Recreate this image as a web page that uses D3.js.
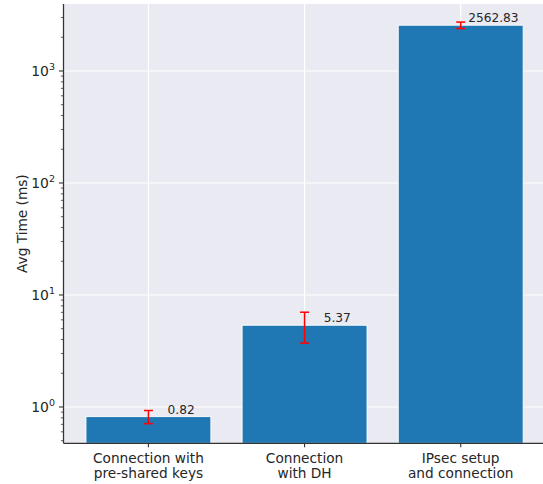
<!DOCTYPE html>
<html>
<head>
<meta charset="utf-8">
<script src="https://cdn.jsdelivr.net/npm/d3@7"></script>
<style>
  html, body { margin: 0; padding: 0; background: #ffffff; }
  svg { display: block; }
  text { font-family: "DejaVu Sans", sans-serif; fill: #262626; }
</style>
</head>
<body>
<svg id="chart" width="543" height="484"></svg>
<script>
// ---- data ----
const categories = [["Connection with", "pre-shared keys"], ["Connection", "with DH"], ["IPsec setup", "and connection"]];
const values = [0.82, 5.37, 2562.83];
const errors = [0.11, 1.65, 170];
const valueLabels = ["0.82", "5.37", "2562.83"];
const yTickExponents = [0, 1, 2, 3];
const yLabel = "Avg Time (ms)";

// ---- layout ----
const W = 543, H = 484;
const plot = { left: 63.5, top: 4, right: 545, bottom: 443.3 };
const svg = d3.select("#chart");

const x = d3.scaleLinear().domain([-0.544, 2.54]).range([plot.left, plot.right]);
const y = d3.scaleLog().domain([0.474, 3963]).range([plot.bottom, plot.top]);

// background
svg.append("rect").attr("x", plot.left).attr("y", plot.top)
  .attr("width", plot.right - plot.left).attr("height", plot.bottom - plot.top)
  .attr("fill", "#EAEAF2");

// grid
const g = svg.append("g");
yTickExponents.forEach(e => {
  const yy = y(Math.pow(10, e));
  g.append("line").attr("x1", plot.left).attr("x2", plot.right)
    .attr("y1", yy).attr("y2", yy).attr("stroke", "#fff").attr("stroke-width", 1.2);
});
categories.forEach((c, i) => {
  g.append("line").attr("x1", x(i)).attr("x2", x(i))
    .attr("y1", plot.top).attr("y2", plot.bottom).attr("stroke", "#fff").attr("stroke-width", 1.2);
});

// bars
const barW = x(0.8) - x(0);
svg.append("g").selectAll("rect").data(values).join("rect")
  .attr("x", (d, i) => x(i) - barW / 2)
  .attr("width", barW)
  .attr("y", d => y(d))
  .attr("height", d => plot.bottom - y(d))
  .attr("fill", "#1f77b4")
  .attr("stroke", "#ffffff").attr("stroke-width", 0.9);

// error bars
const eg = svg.append("g");
values.forEach((v, i) => {
  const cx = x(i), y1 = y(v + errors[i]), y2 = y(v - errors[i]);
  eg.append("line").attr("x1", cx).attr("x2", cx).attr("y1", y1).attr("y2", y2)
    .attr("stroke", "red").attr("stroke-width", 1.5);
  [y1, y2].forEach(yy => eg.append("line").attr("x1", cx - 4.5).attr("x2", cx + 4.5)
    .attr("y1", yy).attr("y2", yy).attr("stroke", "red").attr("stroke-width", 1.5));
});

// value labels
svg.append("g").selectAll("text").data(values).join("text")
  .attr("x", (d, i) => x(i + 0.2) + 1.5)
  .attr("y", d => y(d) - 2.8)
  .attr("text-anchor", "middle")
  .attr("font-size", "12.2px")
  .text((d, i) => valueLabels[i]);

// spines
svg.append("line").attr("x1", plot.left).attr("x2", plot.left).attr("y1", plot.top).attr("y2", plot.bottom)
  .attr("stroke", "#333").attr("stroke-width", 1.25);
svg.append("line").attr("x1", plot.left).attr("x2", plot.right).attr("y1", plot.bottom).attr("y2", plot.bottom)
  .attr("stroke", "#333").attr("stroke-width", 1.25);

// y ticks (major + minor)
const tg = svg.append("g");
const [lo, hi] = y.domain();
for (let e = -1; e <= 3; e++) {
  for (let m = 1; m <= 9; m++) {
    const v = m * Math.pow(10, e);
    if (v < lo || v > hi) continue;
    const len = m === 1 ? 4.5 : 2.6;
    tg.append("line").attr("x1", plot.left - len).attr("x2", plot.left)
      .attr("y1", y(v)).attr("y2", y(v)).attr("stroke", "#333").attr("stroke-width", m === 1 ? 1.1 : 0.8);
  }
}
yTickExponents.forEach(e => {
  const t = tg.append("text").attr("x", 55).attr("y", y(Math.pow(10, e)) + 5.3)
    .attr("text-anchor", "end").attr("font-size", "13.9px");
  t.append("tspan").text("10");
  t.append("tspan").attr("dy", -6.6).attr("font-size", "9.5px").text(String(e));
});

// x ticks
categories.forEach((c, i) => {
  tg.append("line").attr("x1", x(i)).attr("x2", x(i)).attr("y1", plot.bottom).attr("y2", plot.bottom + 4)
    .attr("stroke", "#333").attr("stroke-width", 1.1);
  const t = tg.append("text").attr("x", x(i)).attr("y", 463).attr("text-anchor", "middle").attr("font-size", "13.7px");
  c.forEach((line, k) => t.append("tspan").attr("x", x(i)).attr("dy", k === 0 ? 0 : 15).text(line));
});

// y label
svg.append("text").attr("transform", `translate(26.5, ${(plot.top + plot.bottom) / 2}) rotate(-90)`)
  .attr("text-anchor", "middle").attr("font-size", "13.7px").text(yLabel);
</script>
</body>
</html>
